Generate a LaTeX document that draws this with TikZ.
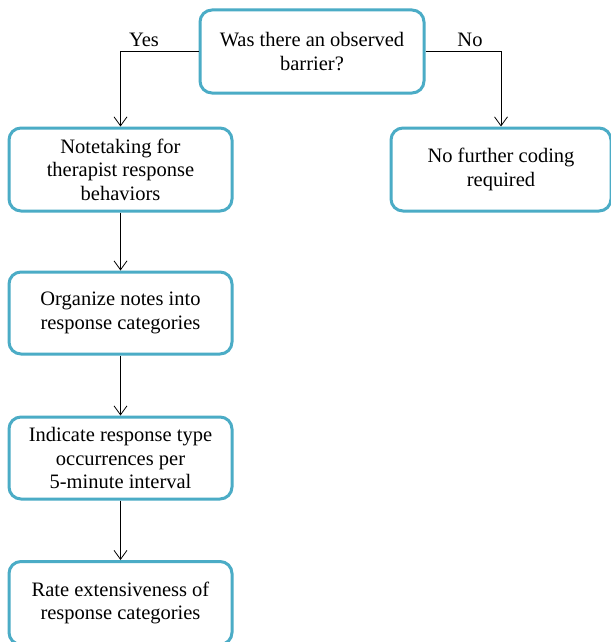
\documentclass[tikz,border=0pt]{standalone}
\usepackage{fontspec}
\setmainfont{Liberation Serif}
\usetikzlibrary{arrows.meta}
\definecolor{boxblue}{HTML}{4BACC6}
\begin{document}
\begin{tikzpicture}[x=1pt,y=-1pt,
  box/.style={draw=boxblue, line width=3pt, rounded corners=12pt, align=center,
    font=\fontsize{20.5}{23.5}\selectfont, inner sep=0pt, fill=white},
  lbl/.style={font=\fontsize{20.5}{23.5}\selectfont, inner sep=0pt},
  conn/.style={-{Straight Barb[length=9pt,width=13pt]}, line width=0.8pt}]
\useasboundingbox[fill=white] (0,0) rectangle (610,642);
\node[box, minimum width=224, minimum height=83] (q) at (312,51.5) {Was there an observed\\barrier?};
\node[box, minimum width=223, minimum height=83] (n1) at (120.5,169.5) {Notetaking for\\therapist response\\behaviors};
\node[box, minimum width=220, minimum height=83] (nr) at (501,169.5) {No further coding\\required};
\node[box, minimum width=223, minimum height=82] (n2) at (120.5,313) {Organize notes into\\response categories};
\node[box, minimum width=223, minimum height=82] (n3) at (120.5,458) {Indicate response type\\occurrences per\\5-minute interval};
\node[box, minimum width=223, minimum height=83] (n4) at (120.5,603) {Rate extensiveness of\\response categories};
\node[lbl] (yes) at (144,40) {Yes};
\node[lbl] (no) at (470,40) {No};
\draw[conn] (q.west) -| (n1.north);
\draw[conn] (q.east) -| (nr.north);
\draw[conn] (n1) -- (n2);
\draw[conn] (n2) -- (n3);
\draw[conn] (n3) -- (n4);
\end{tikzpicture}
\end{document}
